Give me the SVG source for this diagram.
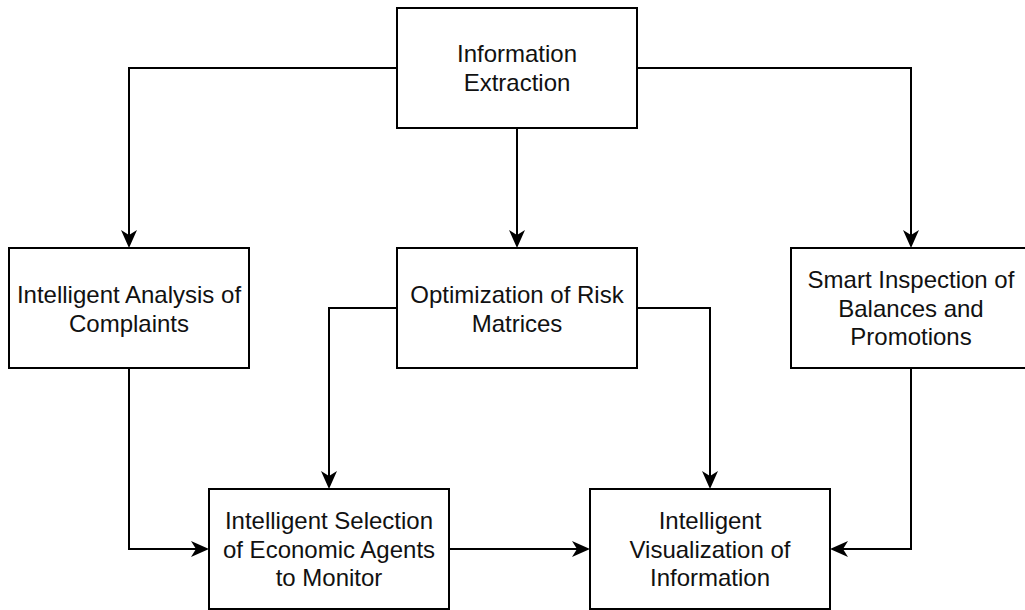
<svg xmlns="http://www.w3.org/2000/svg" width="1025" height="610" viewBox="0 0 1025 610">
<style>
.box{fill:#fff;stroke:#000;stroke-width:2}
.lbl{font-family:"Liberation Sans",Arial,Helvetica,sans-serif;font-size:24px;fill:#111;text-anchor:middle}
.edge{fill:none;stroke:#000;stroke-width:2;marker-end:url(#arr)}
</style>
<defs>
<marker id="arr" markerUnits="userSpaceOnUse" viewBox="0 0 18 16" refX="13" refY="8" markerWidth="18" markerHeight="16" orient="auto">
<path d="M0,0 L18,8 L0,16 L5,8 Z" fill="#000"/>
</marker>
</defs>
<rect width="1025" height="610" fill="#fff"/>
<g id="connectors">
<path class="edge" d="M397,68 H129 V243"/>
<path class="edge" d="M517,128 V243"/>
<path class="edge" d="M637,68 H911 V243"/>
<path class="edge" d="M397,308 H329 V484"/>
<path class="edge" d="M637,308 H710 V484"/>
<path class="edge" d="M129,368 V549 H204"/>
<path class="edge" d="M449,549 H585"/>
<path class="edge" d="M911,368 V549 H835"/>
</g>
<g id="n1">
<rect class="box" x="397" y="8" width="240" height="120"/>
<text class="lbl" x="517" y="62">Information</text>
<text class="lbl" x="517" y="91">Extraction</text>
</g>
<g id="n2">
<rect class="box" x="9" y="248" width="240" height="120"/>
<text class="lbl" x="129" y="303">Intelligent Analysis of</text>
<text class="lbl" x="129" y="332">Complaints</text>
</g>
<g id="n3">
<rect class="box" x="397" y="248" width="240" height="120"/>
<text class="lbl" x="517" y="303">Optimization of Risk</text>
<text class="lbl" x="517" y="332">Matrices</text>
</g>
<g id="n4">
<rect class="box" x="791" y="248" width="240" height="120"/>
<text class="lbl" x="911" y="288">Smart Inspection of</text>
<text class="lbl" x="911" y="317">Balances and</text>
<text class="lbl" x="911" y="345">Promotions</text>
</g>
<g id="n5">
<rect class="box" x="209" y="489" width="240" height="120"/>
<text class="lbl" x="329" y="529">Intelligent Selection</text>
<text class="lbl" x="329" y="558">of Economic Agents</text>
<text class="lbl" x="329" y="586">to Monitor</text>
</g>
<g id="n6">
<rect class="box" x="590" y="489" width="240" height="120"/>
<text class="lbl" x="710" y="529">Intelligent</text>
<text class="lbl" x="710" y="558">Visualization of</text>
<text class="lbl" x="710" y="586">Information</text>
</g>
</svg>
